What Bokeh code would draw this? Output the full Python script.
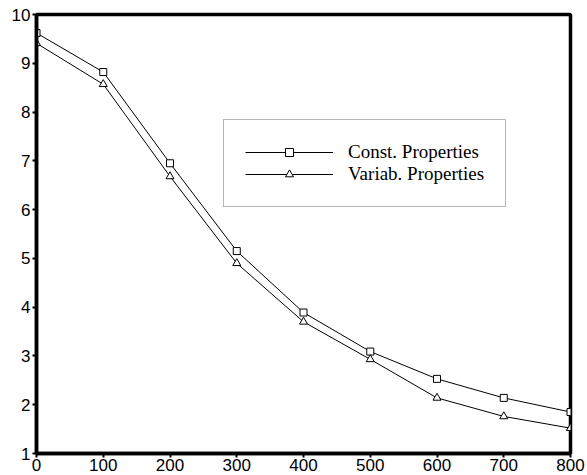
from bokeh.plotting import figure
from bokeh.models import FixedTicker, Range1d, Legend, LegendItem
from bokeh.embed import file_html
from bokeh.resources import INLINE

x = [0, 100, 200, 300, 400, 500, 600, 700, 800]
const_props = [9.62, 8.82, 6.95, 5.15, 3.89, 3.09, 2.53, 2.14, 1.85]
variab_props = [9.41, 8.57, 6.68, 4.90, 3.70, 2.93, 2.14, 1.76, 1.52]
x_ticks = [0, 100, 200, 300, 400, 500, 600, 700, 800]
y_ticks = [1, 2, 3, 4, 5, 6, 7, 8, 9, 10]
labels = ["Const. Properties", "Variab. Properties"]

p = figure(width=587, height=475, output_backend="svg", toolbar_location=None,
           x_range=Range1d(0, 800), y_range=Range1d(1, 10),
           min_border_left=36, min_border_right=17, min_border_top=14, min_border_bottom=22)

p.background_fill_color = "white"
p.border_fill_color = "white"
p.outline_line_color = "black"
p.outline_line_width = 3.5
p.xgrid.visible = False
p.ygrid.visible = False

for ax in (p.xaxis[0], p.yaxis[0]):
    ax.axis_line_width = 3.5
    ax.axis_line_color = "black"
    ax.major_tick_line_width = 2
    ax.major_tick_line_color = "black"
    ax.major_tick_out = 4
    ax.major_tick_in = 0
    ax.minor_tick_line_color = None
    ax.major_label_text_font = "Liberation Sans"
    ax.major_label_text_font_size = "17px"
    ax.major_label_text_color = "black"

p.xaxis.ticker = FixedTicker(ticks=x_ticks)
p.yaxis.ticker = FixedTicker(ticks=y_ticks)
p.xaxis.major_label_standoff = 1
p.yaxis.major_label_standoff = 2

l1 = p.line(x, const_props, line_color="black", line_width=1)
s1 = p.scatter(x, const_props, marker="square", size=7, fill_color="white",
               line_color="black", line_width=1)
l2 = p.line(x, variab_props, line_color="black", line_width=1)
s2 = p.scatter(x, variab_props, marker="triangle", size=8, fill_color="white",
               line_color="black", line_width=1)

legend = Legend(items=[LegendItem(label=labels[0], renderers=[l1, s1]),
                       LegendItem(label=labels[1], renderers=[l2, s2])],
                location=(187, 246))
legend.label_text_font = "Liberation Serif"
legend.label_text_font_size = "19px"
legend.label_text_color = "black"
legend.glyph_width = 88
legend.glyph_height = 20
legend.label_height = 20
legend.label_standoff = 15
legend.spacing = 0
legend.padding = 21
legend.margin = 0
legend.border_line_color = "#707070"
legend.border_line_width = 1.5
legend.background_fill_color = "white"
legend.background_fill_alpha = 1
p.add_layout(legend, "center")

open("out.html", "w").write(file_html(p, INLINE))
